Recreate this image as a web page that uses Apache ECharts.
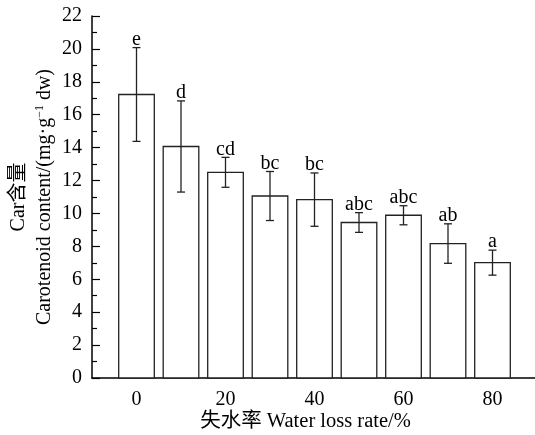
<!DOCTYPE html>
<html>
<head>
<meta charset="utf-8">
<script src="https://cdn.jsdelivr.net/npm/echarts@6/dist/echarts.min.js"></script>
<style>html,body{margin:0;padding:0;background:#fff;}#c{width:535px;height:435px;}</style>
</head>
<body>
<div id="c"></div>
<script>
var waterLoss = [0, 10, 20, 30, 40, 50, 60, 70, 80];
var carMean = [17.23, 14.07, 12.50, 11.06, 10.84, 9.45, 9.89, 8.17, 7.01];
var carSD = [2.85, 2.77, 0.91, 1.49, 1.62, 0.60, 0.58, 1.20, 0.76];
var sigLetters = ['e', 'd', 'cd', 'bc', 'bc', 'abc', 'abc', 'ab', 'a'];
var xMajorTicks = [0, 20, 40, 60, 80];
var xMinorTicks = [10, 30, 50, 70];

var FONT = '"Liberation Serif", "Times New Roman", "Noto Sans CJK SC", serif';
var barData = waterLoss.map(function (x, i) { return [x, carMean[i], carSD[i], i]; });

var chart = echarts.init(document.getElementById('c'), null, {renderer: 'canvas'});
chart.setOption({
  animation: false,
  backgroundColor: '#fff',
  grid: {left: 92, top: 16, width: 445, height: 362, containLabel: false, outerBoundsMode: 'none'},
  xAxis: [{
    type: 'value', min: -10, max: 90, interval: 10,
    name: '失水率 Water loss rate/%', nameLocation: 'middle', nameGap: 33, nameMoveOverlap: false,
    nameTextStyle: {fontFamily: FONT, fontSize: 20.5, color: '#000', padding: [0, 18, 0, 0]},
    axisLine: {show: true, onZero: false, lineStyle: {color: '#000', width: 1.5}},
    axisTick: {show: true, inside: true, length: 8, customValues: xMajorTicks, lineStyle: {color: '#000', width: 1.2}},
    axisLabel: {show: true, margin: 12, customValues: xMajorTicks, fontFamily: FONT, fontSize: 20, color: '#000'},
    splitLine: {show: false}
  }, {
    type: 'value', min: -10, max: 90, interval: 10, position: 'bottom',
    axisLine: {show: false, onZero: false},
    axisTick: {show: true, inside: true, length: 5, customValues: xMinorTicks, lineStyle: {color: '#000', width: 1.2}},
    axisLabel: {show: false},
    splitLine: {show: false}
  }],
  yAxis: {
    type: 'value', min: 0, max: 22, interval: 2,
    name: '{a|Car含量}\n{b|Carotenoid content/(mg·g}{s|−1}{b| dw)}',
    nameLocation: 'middle', nameGap: 34, nameMoveOverlap: false,
    nameTextStyle: {
      fontFamily: FONT, fontSize: 20, color: '#000', lineHeight: 26,
      rich: {
        a: {fontFamily: FONT, fontSize: 20, color: '#000', lineHeight: 26},
        b: {fontFamily: FONT, fontSize: 20, color: '#000', lineHeight: 26},
        s: {fontFamily: FONT, fontSize: 12, color: '#000', lineHeight: 26, padding: [0, 0, 10, 0]}
      }
    },
    axisLine: {show: true, onZero: false, lineStyle: {color: '#000', width: 1.5}},
    axisTick: {show: true, inside: true, length: 8, lineStyle: {color: '#000', width: 1.2}},
    minorTick: {show: true, splitNumber: 2, length: 5, lineStyle: {color: '#000', width: 1.2}},
    axisLabel: {margin: 10, fontFamily: FONT, fontSize: 20, color: '#000'},
    splitLine: {show: false}
  },
  series: [{
    type: 'custom',
    xAxisIndex: 0, yAxisIndex: 0,
    data: barData,
    encode: {x: 0, y: 1},
    renderItem: function (params, api) {
      var x = api.value(0), m = api.value(1), sd = api.value(2), idx = api.value(3);
      var halfW = 4;
      var p0 = api.coord([x - halfW, 0]);
      var p1 = api.coord([x + halfW, m]);
      var c = api.coord([x, m]);
      var up = api.coord([x, m + sd]);
      var lo = api.coord([x, m - sd]);
      var cap = 4;
      var ls = {stroke: '#222', lineWidth: 1.3, fill: null};
      return {
        type: 'group',
        children: [
          {type: 'rect', shape: {x: p0[0], y: p1[1], width: p1[0] - p0[0], height: p0[1] - p1[1]},
           style: {fill: '#fff', stroke: '#222', lineWidth: 1.3}},
          {type: 'line', shape: {x1: c[0], y1: up[1], x2: c[0], y2: lo[1]}, style: ls},
          {type: 'line', shape: {x1: c[0] - cap, y1: up[1], x2: c[0] + cap, y2: up[1]}, style: ls},
          {type: 'line', shape: {x1: c[0] - cap, y1: lo[1], x2: c[0] + cap, y2: lo[1]}, style: ls},
          {type: 'text', x: c[0], y: up[1] + 2,
           style: {text: sigLetters[idx], fontFamily: FONT, fontSize: 20, fill: '#000', align: 'center', verticalAlign: 'bottom'}}
        ]
      };
    }
  }]
});
</script>
</body>
</html>
